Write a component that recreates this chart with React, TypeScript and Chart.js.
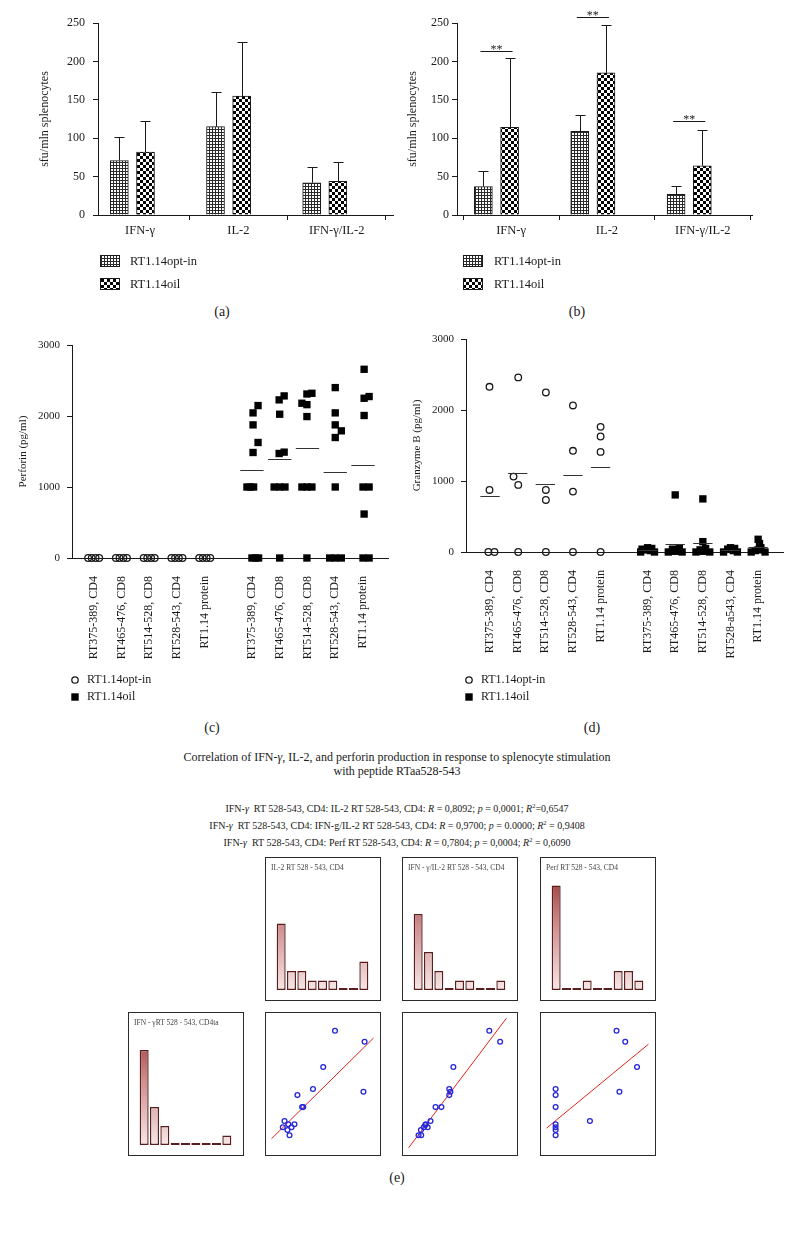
import React, { useEffect, useRef } from "react";
import { Chart, registerables } from "chart.js";

Chart.register(...registerables);

const SERIF = "'Liberation Serif', 'DejaVu Serif', serif";
const INK = "#1a1a1a";

// ---------------- data: panels (a) and (b) ----------------
const barCategories = ["IFN-γ", "IL-2", "IFN-γ/IL-2"];
const seriesNames = ["RT1.14opt-in", "RT1.14oil"];
const sfuTicks = [0, 50, 100, 150, 200, 250];
const aOptIn = [71, 115, 42];
const aOptInSd = [30, 45, 21];
const aOil = [82, 155, 44];
const aOilSd = [40, 70, 25];
const bOptIn = [37, 109, 27];
const bOptInSd = [20, 21, 11];
const bOil = [114, 185, 64];
const bOilSd = [91, 63, 47];
const bSigLevel = [214, 258, 123];
const bSigText = ["**", "**", "**"];

// ---------------- data: panels (c) and (d) ----------------
const peptidesC = [
  "RT375-389, CD4", "RT465-476, CD8", "RT514-528, CD8", "RT528-543, CD4", "RT1.14 protein",
  "RT375-389, CD4", "RT465-476, CD8", "RT514-528, CD8", "RT528-543, CD4", "RT1.14 protein",
];
const peptidesD = [
  "RT375-389, CD4", "RT465-476, CD8", "RT514-528, CD8", "RT528-543, CD4", "RT1.14 protein",
  "RT375-389, CD4", "RT465-476, CD8", "RT514-528, CD8", "RT528-a543, CD4", "RT1.14 protein",
];
const pgTicks = [0, 1000, 2000, 3000];
// rows: [group index, horizontal jitter, pg/ml]
const perfOptIn = [
  [0, -0.2, 0], [0, -0.07, 0], [0, 0.07, 0], [0, 0.2, 0],
  [1, -0.2, 0], [1, -0.07, 0], [1, 0.07, 0], [1, 0.2, 0],
  [2, -0.2, 0], [2, -0.07, 0], [2, 0.07, 0], [2, 0.2, 0],
  [3, -0.2, 0], [3, -0.07, 0], [3, 0.07, 0], [3, 0.2, 0],
  [4, -0.2, 0], [4, -0.07, 0], [4, 0.07, 0], [4, 0.2, 0],
];
const perfOil = [
  [5, 0.22, 2147], [5, 0.04, 2044], [5, 0.04, 1875], [5, 0.22, 1627], [5, 0.04, 1486],
  [5, -0.18, 1000], [5, -0.06, 1000], [5, 0.06, 1000], [5, 0, 0], [5, 0.12, 0], [5, 0.24, 0],
  [6, 0.16, 2283], [6, -0.02, 2227], [6, 0, 2025], [6, 0.16, 1491], [6, -0.02, 1472],
  [6, -0.2, 1000], [6, 0, 1000], [6, 0.19, 1000], [6, 0, 0],
  [7, 0.16, 2320], [7, -0.02, 2310], [7, -0.2, 2180], [7, -0.02, 2160], [7, -0.02, 1992],
  [7, -0.2, 1000], [7, -0.02, 1000], [7, 0.16, 1000], [7, -0.02, 0],
  [8, 0, 2400], [8, 0, 2044], [8, 0, 1875], [8, 0.22, 1791], [8, 0, 1697], [8, 0, 1000],
  [8, -0.2, 0], [8, 0, 0], [8, 0.22, 0],
  [9, 0.04, 2658], [9, 0.22, 2274], [9, 0.04, 2250], [9, 0.04, 2007], [9, 0, 1000], [9, 0.22, 1000],
  [9, 0.04, 619], [9, 0, 0], [9, 0.22, 0],
];
const perfOilMeans = [[5, 1242], [6, 1392], [7, 1556], [8, 1205], [9, 1313]];
const gzmOptIn = [
  [0, -0.02, 2327], [0, -0.02, 874], [0, -0.06, 0], [0, 0.16, 0],
  [1, 0.02, 2459], [1, -0.15, 1062], [1, 0.02, 945], [1, 0.02, 0],
  [2, 0.02, 2247], [2, 0.02, 874], [2, 0.02, 733], [2, 0.02, 0],
  [3, 0, 2064], [3, 0, 1425], [3, 0, 851], [3, 0, 0],
  [4, 0, 1763], [4, 0, 1627], [4, 0, 1410], [4, 0, 0],
];
const gzmOptInMeans = [[0, 795], [1, 1119], [2, 964], [3, 1081], [4, 1204]];
const gzmOil = [
  [5, -0.25, 0], [5, -0.1, 30], [5, 0, 60], [5, 0.1, 20], [5, 0.25, 0], [5, 0.15, 50], [5, -0.2, 40],
  [6, 0, 804], [6, -0.25, 0], [6, -0.1, 40], [6, 0, 10], [6, 0.15, 60], [6, 0.25, 0], [6, 0.05, 30],
  [7, 0, 748], [7, 0, 146], [7, -0.25, 0], [7, -0.1, 30], [7, 0.1, 50], [7, 0.25, 0], [7, 0, 10],
  [8, -0.25, 0], [8, -0.1, 40], [8, 0, 60], [8, 0.1, 20], [8, 0.25, 0], [8, 0.15, 50],
  [9, 0, 179], [9, 0.05, 120], [9, -0.25, 0], [9, 0, 30], [9, 0.25, 0], [9, 0.1, 60], [9, -0.1, 20],
];
const gzmOilMeans = [[5, 30], [6, 113], [7, 122], [8, 30], [9, 66]];

// ---------------- data: panel (e) ----------------
const histBins = ["1", "2", "3", "4", "5", "6", "7", "8", "9"];
const histIL2 = [7, 2, 2, 1, 1, 1, 0, 0, 3];
const histRatio = [8, 4, 2, 0, 1, 1, 0, 0, 1];
const histPerf = [11, 0, 0, 1, 0, 0, 2, 2, 1];
const histIFN = [10, 4, 2, 0, 0, 0, 0, 0, 1];
// [x, y] in relative units (0-100) of each unlabeled panel; y = IFN-γ
const corrIL2 = [
  [62.2, 90.4], [91.1, 82.0], [50.7, 62.7], [40.7, 45.8], [90.0, 43.7], [25.5, 41.1], [30.1, 31.9],
  [31.2, 31.9], [12.9, 21.2], [16.6, 18.8], [22.6, 18.8], [11.2, 16.5], [19.8, 16.5], [15.8, 14.3], [17.8, 10.3],
];
const corrRatio = [
  [79.1, 90.4], [89.7, 82.0], [44.0, 62.7], [40.0, 45.8], [41.1, 43.7], [40.0, 41.1], [26.6, 31.9],
  [32.3, 31.9], [21.7, 21.2], [17.1, 18.8], [16.6, 18.2], [18.9, 16.5], [15.1, 16.5], [12.3, 14.3],
  [10.0, 10.3], [12.6, 10.3],
];
const corrPerf = [
  [68.6, 90.4], [77.1, 82.0], [88.6, 62.7], [71.4, 43.7], [9.1, 45.8], [9.1, 41.1], [9.1, 31.9],
  [42.6, 21.2], [9.1, 18.8], [9.1, 16.5], [9.1, 14.3], [9.1, 10.3],
];
// regression lines: [intercept, slope]
const fitIL2 = [7.5, 0.775];
const fitRatio = [0.4, 1.04];
const fitPerf = [15.6, 0.647];

// ---------------- helpers ----------------
function makeFine() {
  const c = document.createElement("canvas");
  c.width = 3;
  c.height = 3;
  const g = c.getContext("2d")!;
  g.fillStyle = "#2a2a2a";
  g.fillRect(0, 0, 3, 3);
  g.fillStyle = "#ffffff";
  g.fillRect(1, 1, 2, 2);
  return g.createPattern(c, "repeat") as CanvasPattern;
}
function makeCoarse() {
  const c = document.createElement("canvas");
  c.width = 6;
  c.height = 6;
  const g = c.getContext("2d")!;
  g.fillStyle = "#ffffff";
  g.fillRect(0, 0, 6, 6);
  g.fillStyle = "#000000";
  g.fillRect(0, 0, 3, 3);
  g.fillRect(3, 3, 3, 3);
  return g.createPattern(c, "repeat") as CanvasPattern;
}

function ChartCanvas({ left, top, width, height, make }: any) {
  const ref = useRef<HTMLCanvasElement>(null);
  useEffect(() => {
    const chart = new Chart(ref.current as HTMLCanvasElement, make());
    return () => chart.destroy();
  }, []);
  return (
    <canvas
      ref={ref}
      width={width}
      height={height}
      style={{ position: "absolute", left, top, width, height }}
    />
  );
}

function Text({ x, y, size = 11, children, style }: any) {
  return (
    <div
      style={{
        position: "absolute",
        left: x,
        top: y,
        transform: "translate(-50%, -50%)",
        fontFamily: SERIF,
        fontSize: size,
        color: INK,
        whiteSpace: "nowrap",
        lineHeight: 1,
        ...style,
      }}
    >
      {children}
    </div>
  );
}

const plainTick = (v: any) => String(v);

// ---------------- bar panels ----------------
function barPanel(spec: any) {
  const fine = makeFine();
  const coarse = makeCoarse();
  const xOf = (i: number, off: number) => i * spec.step + off;
  const errorPlugin = {
    id: "errbars",
    afterDatasetsDraw(chart: any) {
      const { ctx } = chart;
      const x = chart.scales.x;
      const y = chart.scales.y;
      ctx.save();
      ctx.strokeStyle = INK;
      ctx.lineWidth = 1;
      chart.data.datasets.forEach((ds: any) => {
        ds.data.forEach((pt: any, j: number) => {
          const px = Math.round(x.getPixelForValue(pt.x)) + 0.5;
          const yTop = Math.round(y.getPixelForValue(pt.y + ds.errors[j])) + 0.5;
          const yBar = y.getPixelForValue(pt.y);
          ctx.beginPath();
          ctx.moveTo(px, yBar);
          ctx.lineTo(px, yTop);
          ctx.moveTo(px - 5, yTop);
          ctx.lineTo(px + 5, yTop);
          ctx.stroke();
        });
      });
      ctx.restore();
    },
  };
  const sigPlugin = {
    id: "sig",
    afterDatasetsDraw(chart: any) {
      if (!spec.sig) return;
      const { ctx } = chart;
      const x = chart.scales.x;
      const y = chart.scales.y;
      ctx.save();
      ctx.strokeStyle = INK;
      ctx.fillStyle = INK;
      ctx.lineWidth = 1;
      ctx.font = `12px ${SERIF}`;
      ctx.textAlign = "center";
      ctx.textBaseline = "alphabetic";
      spec.sig.forEach((lvl: number, i: number) => {
        const x0 = x.getPixelForValue(xOf(i, spec.optOff) - 0.03);
        const x1 = x.getPixelForValue(xOf(i, spec.oilOff) + 0.03);
        const py = Math.round(y.getPixelForValue(lvl)) + 0.5;
        ctx.beginPath();
        ctx.moveTo(x0, py);
        ctx.lineTo(x1, py);
        ctx.stroke();
        ctx.fillText(bSigText[i], (x0 + x1) / 2, py + 1);
      });
      ctx.restore();
    },
  };
  const legendPlugin = {
    id: "swatches",
    afterDraw(chart: any) {
      const { ctx } = chart;
      spec.legend.forEach((it: any, i: number) => {
        const ds = chart.data.datasets[i];
        ctx.save();
        ctx.fillStyle = ds.backgroundColor;
        ctx.fillRect(it.x, it.y, 20, 12);
        ctx.strokeStyle = INK;
        ctx.lineWidth = 1;
        ctx.strokeRect(it.x + 0.5, it.y + 0.5, 19, 11);
        ctx.fillStyle = INK;
        ctx.font = `12.5px ${SERIF}`;
        ctx.textAlign = "left";
        ctx.textBaseline = "middle";
        ctx.fillText(seriesNames[i], it.tx, it.y + 6.5);
        ctx.restore();
      });
    },
  };
  return {
    type: "bar",
    data: {
      datasets: [
        {
          label: seriesNames[0],
          data: spec.optIn.map((v: number, i: number) => ({ x: xOf(i, spec.optOff), y: v })),
          errors: spec.optInSd,
          backgroundColor: fine,
          borderColor: INK,
          borderWidth: 1,
          barThickness: 18,
          grouped: false,
        },
        {
          label: seriesNames[1],
          data: spec.oil.map((v: number, i: number) => ({ x: xOf(i, spec.oilOff), y: v })),
          errors: spec.oilSd,
          backgroundColor: coarse,
          borderColor: INK,
          borderWidth: 1,
          barThickness: 18,
          grouped: false,
        },
      ],
    },
    options: {
      responsive: false,
      animation: false,
      layout: { padding: spec.padding },
      plugins: { legend: { display: false }, tooltip: { enabled: false } },
      scales: {
        x: {
          type: "linear",
          min: 0,
          max: 3,
          offset: false,
          afterBuildTicks: (s: any) => {
            s.ticks = barCategories.map((_, i) => ({ value: i * spec.tickStep + spec.tickOff }));
          },
          afterFit: (s: any) => {
            s.height = 30;
          },
          grid: { display: true, drawOnChartArea: false, drawTicks: true, tickLength: 5, color: INK },
          border: { display: true, color: INK, width: 1 },
          ticks: {
            autoSkip: false,
            maxRotation: 0,
            minRotation: 0,
            padding: 3,
            color: INK,
            font: { family: SERIF, size: 12.5 },
            callback: (_v: any, i: number) => barCategories[i],
          },
        },
        y: {
          min: 0,
          max: 250,
          afterBuildTicks: (s: any) => {
            s.ticks = sfuTicks.map((v) => ({ value: v }));
          },
          afterFit: (s: any) => {
            s.width = spec.yWidth;
          },
          grid: { display: true, drawOnChartArea: false, drawTicks: true, tickLength: 5, color: INK },
          border: { display: true, color: INK, width: 1 },
          ticks: { padding: spec.yPad, color: INK, font: { family: SERIF, size: 12 }, callback: plainTick },
          title: {
            display: true,
            text: "sfu/mln splenocytes",
            color: INK,
            font: { family: SERIF, size: 12 },
            padding: { top: 4, bottom: 4 },
          },
        },
      },
    },
    plugins: [errorPlugin, sigPlugin, legendPlugin],
  };
}

const A_SPEC = {
  optIn: aOptIn, optInSd: aOptInSd, oil: aOil, oilSd: aOilSd,
  step: 0.978, optOff: 0.217, oilOff: 0.483, tickStep: 1.0, tickOff: 0.427,
  padding: { left: 14, top: 23, right: 7, bottom: 53 }, yWidth: 64, yPad: 8,
  legend: [{ x: 80, y: 255, tx: 110 }, { x: 80, y: 278, tx: 110 }],
  sig: null,
};
const B_SPEC = {
  optIn: bOptIn, optInSd: bOptInSd, oil: bOil, oilSd: bOilSd,
  step: 0.98, optOff: 0.268, oilOff: 0.535, tickStep: 0.975, tickOff: 0.55,
  padding: { left: 2, top: 23, right: 42, bottom: 53 }, yWidth: 55, yPad: 3,
  legend: [{ x: 63, y: 255, tx: 94 }, { x: 63, y: 278, tx: 94 }],
  sig: bSigLevel,
};

// ---------------- dot panels ----------------
const GROUP_X = [1, 2, 3, 4, 5, 6.7, 7.7, 8.7, 9.7, 10.7];

function dotPanel(spec: any) {
  const meanPlugin = {
    id: "means",
    afterDatasetsDraw(chart: any) {
      const { ctx } = chart;
      const x = chart.scales.x;
      const y = chart.scales.y;
      ctx.save();
      ctx.strokeStyle = "#333";
      ctx.lineWidth = 1;
      spec.means.forEach(([g, m]: number[]) => {
        const py = Math.round(y.getPixelForValue(m)) + 0.5;
        ctx.beginPath();
        ctx.moveTo(x.getPixelForValue(GROUP_X[g] - spec.half), py);
        ctx.lineTo(x.getPixelForValue(GROUP_X[g] + spec.half), py);
        ctx.stroke();
      });
      ctx.restore();
    },
  };
  const legendPlugin = {
    id: "dotLegend",
    afterDraw(chart: any) {
      const { ctx } = chart;
      const L = spec.legend;
      ctx.save();
      ctx.strokeStyle = INK;
      ctx.lineWidth = 1.3;
      ctx.beginPath();
      ctx.arc(L.x, L.y0, 3.2, 0, Math.PI * 2);
      ctx.stroke();
      ctx.fillStyle = "#000";
      ctx.fillRect(L.x - 3.7, L.y1 - 3.7, 7.4, 7.4);
      ctx.fillStyle = INK;
      ctx.font = `12px ${SERIF}`;
      ctx.textAlign = "left";
      ctx.textBaseline = "middle";
      ctx.fillText(seriesNames[0], L.tx, L.y0);
      ctx.fillText(seriesNames[1], L.tx, L.y1);
      ctx.restore();
    },
  };
  return {
    type: "scatter",
    data: {
      datasets: [
        {
          label: seriesNames[0],
          data: spec.optIn.map(([g, dx, v]: number[]) => ({ x: GROUP_X[g] + dx, y: v })),
          pointStyle: "circle",
          pointRadius: 3.3,
          pointBorderWidth: 1.3,
          pointBorderColor: INK,
          pointBackgroundColor: "rgba(0,0,0,0)",
          clip: false,
        },
        {
          label: seriesNames[1],
          data: spec.oil.map(([g, dx, v]: number[]) => ({ x: GROUP_X[g] + dx, y: v })),
          pointStyle: "rect",
          pointRadius: 5.2,
          pointBorderWidth: 0,
          pointBorderColor: "#000",
          pointBackgroundColor: "#000",
          clip: false,
        },
      ],
    },
    options: {
      responsive: false,
      animation: false,
      layout: { padding: spec.padding },
      plugins: { legend: { display: false }, tooltip: { enabled: false } },
      scales: {
        x: {
          type: "linear",
          min: spec.xMin,
          max: 11.6,
          afterBuildTicks: (s: any) => {
            s.ticks = GROUP_X.map((v) => ({ value: v }));
          },
          afterFit: (s: any) => {
            s.height = 110;
          },
          grid: { display: false },
          border: { display: true, color: INK, width: 1 },
          ticks: {
            autoSkip: false,
            minRotation: 90,
            maxRotation: 90,
            padding: 10,
            color: INK,
            font: { family: SERIF, size: 12 },
            callback: (_v: any, i: number) => spec.labels[i],
          },
        },
        y: {
          min: 0,
          max: 3000,
          afterBuildTicks: (s: any) => {
            s.ticks = pgTicks.map((v) => ({ value: v }));
          },
          afterFit: (s: any) => {
            s.width = spec.yWidth;
          },
          grid: { display: true, drawOnChartArea: false, drawTicks: true, tickLength: 5, color: INK },
          border: { display: true, color: INK, width: 1 },
          ticks: { padding: 7, color: INK, font: { family: SERIF, size: 11 }, callback: plainTick },
          title: {
            display: true,
            text: spec.title,
            color: INK,
            font: { family: SERIF, size: 11 },
            padding: { top: 4, bottom: 4 },
          },
        },
      },
    },
    plugins: [meanPlugin, legendPlugin],
  };
}

const C_SPEC = {
  optIn: perfOptIn, oil: perfOil, means: perfOilMeans, half: 0.42, labels: peptidesC,
  title: "Perforin (pg/ml)", xMin: 0.22,
  padding: { left: 13, top: 15, right: 10, bottom: 42 }, yWidth: 59,
  legend: { x: 75, y0: 350, y1: 367, tx: 87 },
};
const D_SPEC = {
  optIn: gzmOptIn, oil: gzmOil, means: [...gzmOptInMeans, ...gzmOilMeans], half: 0.35, labels: peptidesD,
  title: "Granzyme B (pg/ml)", xMin: 0.13,
  padding: { left: 7, top: 15, right: 11, bottom: 48 }, yWidth: 59,
  legend: { x: 69, y0: 356, y1: 373, tx: 81 },
};

// ---------------- correlation matrix (e) ----------------
const BOX_W = 116;
const BOX_H = 144;
const BOX_X = [128, 265, 402, 540];
const BOX_Y = [857, 1012];

const histFill = (c: any) => {
  const chart = c.chart;
  const ca = chart.chartArea;
  if (!ca) return "#d9a0a0";
  const g = chart.ctx.createLinearGradient(0, ca.bottom, 0, ca.top);
  g.addColorStop(0, "#f6e6e6");
  g.addColorStop(0.5, "#cd8c8c");
  g.addColorStop(1, "#8a1c1c");
  return g;
};

function histConfig(counts: number[]) {
  return {
    type: "bar",
    data: {
      labels: histBins,
      datasets: [
        {
          data: counts,
          backgroundColor: histFill,
          borderColor: "#5a1e1e",
          borderWidth: 1.4,
          borderSkipped: false,
          barPercentage: 0.87,
          categoryPercentage: 1,
          minBarLength: 2,
        },
      ],
    },
    options: {
      responsive: false,
      animation: false,
      layout: { padding: { left: 10, right: 10, top: 0, bottom: 9 } },
      plugins: { legend: { display: false }, tooltip: { enabled: false } },
      scales: {
        x: { display: false },
        y: { display: false, min: 0, max: 13.9 },
      },
    },
  };
}

function corrConfig(points: number[][], fit: number[]) {
  return {
    type: "scatter",
    data: {
      datasets: [
        {
          data: points.map(([x, y]) => ({ x, y })),
          pointRadius: 2.4,
          pointBorderWidth: 1.3,
          pointBorderColor: "#2626d9",
          pointBackgroundColor: "rgba(0,0,0,0)",
          clip: false,
        },
        {
          type: "line",
          data: [
            { x: 0, y: fit[0] },
            { x: 100, y: fit[0] + fit[1] * 100 },
          ],
          borderColor: "#e3241c",
          borderWidth: 1,
          pointRadius: 0,
          clip: 0,
        },
      ],
    },
    options: {
      responsive: false,
      animation: false,
      layout: { padding: 0 },
      plugins: { legend: { display: false }, tooltip: { enabled: false } },
      scales: {
        x: { type: "linear", display: false, min: 0, max: 100 },
        y: { display: false, min: 0, max: 100 },
      },
    },
  };
}

function MatrixBox({ left, top, label, make }: any) {
  return (
    <div
      style={{
        position: "absolute",
        left,
        top,
        width: BOX_W,
        height: BOX_H,
        border: "1.5px solid #2b2b2b",
        boxSizing: "border-box",
      }}
    >
      <ChartCanvas left={0} top={0} width={BOX_W - 3} height={BOX_H - 3} make={make} />
      {label ? (
        <div
          style={{
            position: "absolute",
            left: 5,
            top: 6,
            fontFamily: SERIF,
            fontSize: 7.5,
            color: "#444",
            whiteSpace: "nowrap",
            lineHeight: 1,
          }}
        >
          {label}
        </div>
      ) : null}
    </div>
  );
}

function Stat({ y, pair, r, p, r2, r2sep }: any) {
  return (
    <Text x={397} y={y} size={10}>
      IFN-<i>γ</i>&nbsp;&nbsp;RT 528-543, CD4: {pair} RT 528-543, CD4: <i>R</i> = {r}; <i>p</i> = {p};{" "}
      <i>R</i>
      <sup style={{ fontSize: 6.5, verticalAlign: "4px" }}>2</sup>
      {r2sep}
      {r2}
    </Text>
  );
}

export default function App() {
  return (
    <div
      style={{
        position: "absolute",
        left: 0,
        top: 0,
        width: 794,
        height: 1233,
        background: "#ffffff",
        overflow: "hidden",
      }}
    >
      <ChartCanvas left={20} top={0} width={380} height={298} make={() => barPanel(A_SPEC)} />
      <ChartCanvas left={400} top={0} width={394} height={298} make={() => barPanel(B_SPEC)} />
      <Text x={222} y={312} size={14}>(a)</Text>
      <Text x={577} y={312} size={14}>(b)</Text>

      <ChartCanvas left={0} top={330} width={398} height={380} make={() => dotPanel(C_SPEC)} />
      <ChartCanvas left={400} top={324} width={394} height={386} make={() => dotPanel(D_SPEC)} />
      <Text x={212} y={728} size={14}>(c)</Text>
      <Text x={592} y={728} size={14}>(d)</Text>

      <Text x={397} y={757} size={12}>
        Correlation of IFN-<i>γ</i>, IL-2, and perforin production in response to splenocyte stimulation
      </Text>
      <Text x={397} y={771} size={12}>with peptide RTaa528-543</Text>
      <Stat y={808} pair="IL-2" r="0,8092" p="0,0001" r2="0,6547" r2sep="=" />
      <Stat y={825} pair="IFN-g/IL-2" r="0,9700" p="0.0000" r2="0,9408" r2sep=" = " />
      <Stat y={842} pair="Perf" r="0,7804" p="0,0004" r2="0,6090" r2sep=" = " />

      <MatrixBox left={BOX_X[1]} top={BOX_Y[0]} label="IL-2 RT 528 - 543, CD4" make={() => histConfig(histIL2)} />
      <MatrixBox left={BOX_X[2]} top={BOX_Y[0]} label="IFN - γ/IL-2 RT 528 - 543, CD4" make={() => histConfig(histRatio)} />
      <MatrixBox left={BOX_X[3]} top={BOX_Y[0]} label="Perf RT 528 - 543, CD4" make={() => histConfig(histPerf)} />
      <MatrixBox left={BOX_X[0]} top={BOX_Y[1]} label="IFN - γRT 528 - 543, CD4ta" make={() => histConfig(histIFN)} />
      <MatrixBox left={BOX_X[1]} top={BOX_Y[1]} make={() => corrConfig(corrIL2, fitIL2)} />
      <MatrixBox left={BOX_X[2]} top={BOX_Y[1]} make={() => corrConfig(corrRatio, fitRatio)} />
      <MatrixBox left={BOX_X[3]} top={BOX_Y[1]} make={() => corrConfig(corrPerf, fitPerf)} />
      <Text x={397} y={1178} size={14}>(e)</Text>
    </div>
  );
}
